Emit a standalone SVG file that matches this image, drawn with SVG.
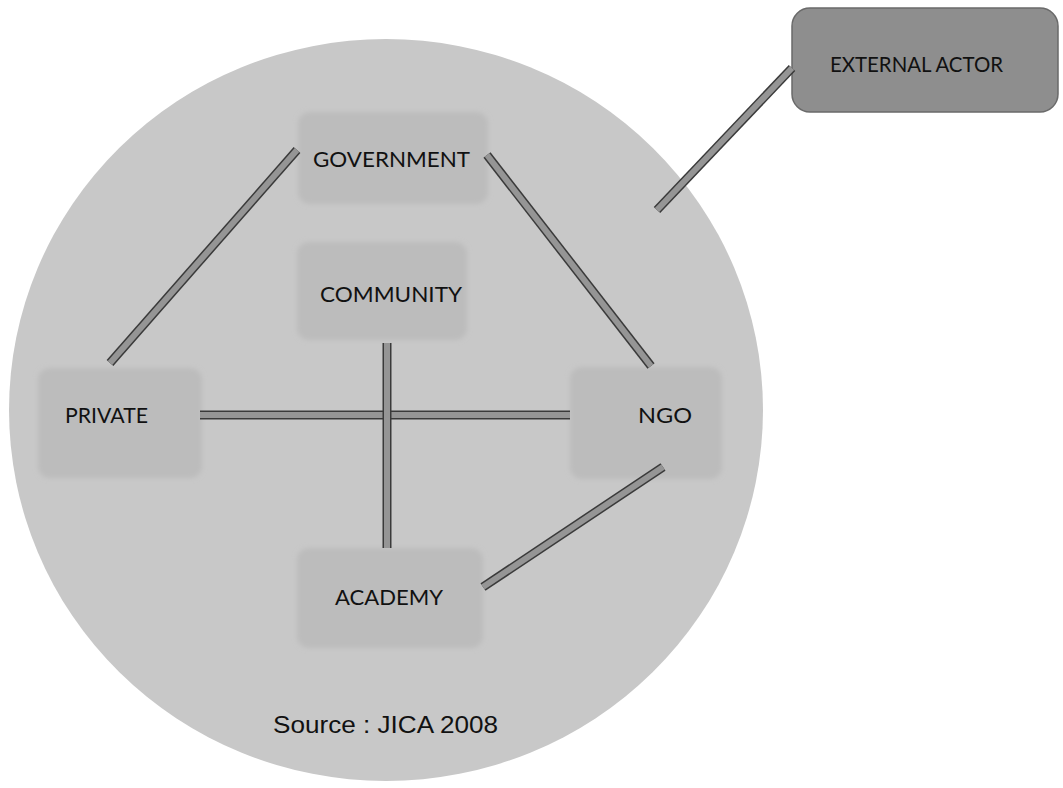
<svg xmlns="http://www.w3.org/2000/svg" width="1063" height="788" viewBox="0 0 1063 788">
  <defs>
    <filter id="soft" x="-10%" y="-10%" width="120%" height="120%">
      <feGaussianBlur stdDeviation="2.5"/>
    </filter>
    <style>
      .box { fill: #bcbcbc; filter: url(#soft); }
      .lbl { font-family: Lato, "Open Sans", "DejaVu Sans", sans-serif; font-size: 21px; fill: #111111; }
      .src { font-family: "Liberation Sans", Arial, sans-serif; font-size: 24px; fill: #111111; }
      .edge-o { stroke: #3a3a3a; stroke-width: 9; stroke-linecap: butt; fill: none; }
      .edge-i { stroke: #959595; stroke-width: 6; stroke-linecap: butt; fill: none; }
    </style>
  </defs>
  <rect width="1063" height="788" fill="#ffffff"/>

  <g id="circle">
    <ellipse cx="386" cy="410" rx="377" ry="371" fill="#c8c8c8"/>
  </g>

  <g id="government">
    <rect class="box" x="298" y="112" width="190" height="92" rx="12"/>
    <text class="lbl" x="313" y="167" textLength="157" lengthAdjust="spacingAndGlyphs">GOVERNMENT</text>
  </g>
  <g id="community">
    <rect class="box" x="297" y="242" width="170" height="98" rx="12"/>
    <text class="lbl" x="320" y="302" textLength="142" lengthAdjust="spacingAndGlyphs">COMMUNITY</text>
  </g>
  <g id="private">
    <rect class="box" x="38" y="368" width="164" height="110" rx="12"/>
    <text class="lbl" x="65" y="423" textLength="83" lengthAdjust="spacingAndGlyphs">PRIVATE</text>
  </g>
  <g id="ngo">
    <rect class="box" x="570" y="367" width="152" height="112" rx="12"/>
    <text class="lbl" x="638" y="423" textLength="54" lengthAdjust="spacingAndGlyphs">NGO</text>
  </g>
  <g id="academy">
    <rect class="box" x="297" y="548" width="186" height="100" rx="12"/>
    <text class="lbl" x="335" y="605" textLength="108" lengthAdjust="spacingAndGlyphs">ACADEMY</text>
  </g>
  <g id="external-actor">
    <rect x="792" y="8" width="266" height="104" rx="18" fill="#8e8e8e" stroke="#6a6a6a" stroke-width="1.5"/>
    <text class="lbl" x="830" y="72" textLength="173" lengthAdjust="spacingAndGlyphs">EXTERNAL ACTOR</text>
  </g>
  <g id="source">
    <text class="src" x="273" y="733" textLength="225" lengthAdjust="spacingAndGlyphs">Source : JICA 2008</text>
  </g>

  <g id="connectors">
    <line class="edge-o" x1="297" y1="150" x2="110" y2="363"/>
    <line class="edge-i" x1="297" y1="150" x2="110" y2="363"/>
    <line class="edge-o" x1="487" y1="155" x2="651" y2="366"/>
    <line class="edge-i" x1="487" y1="155" x2="651" y2="366"/>
    <line class="edge-o" x1="200" y1="415" x2="570" y2="415"/>
    <line class="edge-i" x1="200" y1="415" x2="570" y2="415"/>
    <line class="edge-o" x1="387" y1="343" x2="387" y2="548"/>
    <line class="edge-i" x1="387" y1="343" x2="387" y2="548"/>
    <line class="edge-o" x1="663" y1="467" x2="483" y2="587"/>
    <line class="edge-i" x1="663" y1="467" x2="483" y2="587"/>
    <line class="edge-o" x1="657" y1="210" x2="792" y2="68"/>
    <line class="edge-i" x1="657" y1="210" x2="792" y2="68"/>
  </g>
</svg>
